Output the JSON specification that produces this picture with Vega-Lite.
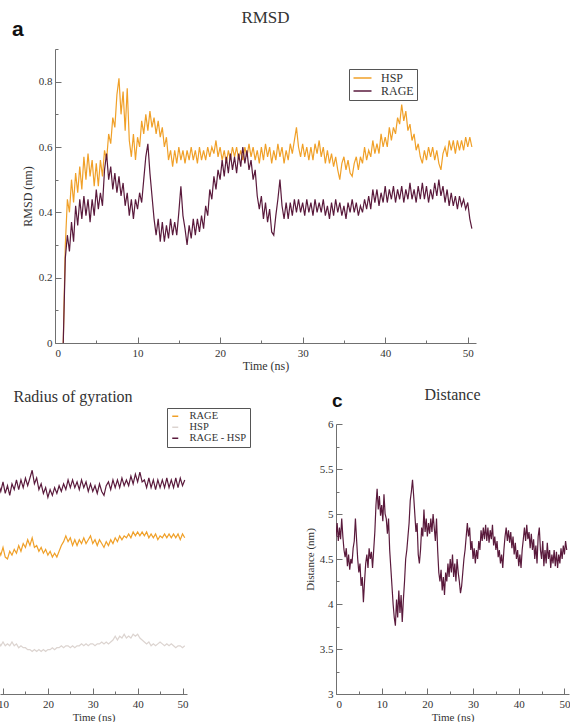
{
"$schema": "https://vega.github.io/schema/vega-lite/v6.json",
"background": "white",
"padding": {"left": -3, "top": 8, "right": 0, "bottom": 0},
"config": {
 "font": "Liberation Serif",
 "view": {"stroke": null},
 "axis": {"domainColor": "#707070", "tickColor": "#707070", "labelColor": "#333333", "titleColor": "#333333", "labelFont": "Liberation Serif", "titleFont": "Liberation Serif", "labelFontSize": 11, "titleFontSize": 12, "titleFontWeight": "normal", "grid": false, "labelPadding": 3, "titlePadding": 4},
 "title": {"font": "Liberation Serif", "fontWeight": "normal", "color": "#333333", "baseline": "alphabetic"},
 "legend": {"labelFont": "Liberation Serif", "labelColor": "#333333", "strokeColor": "#555555", "padding": 4, "rowPadding": 1, "symbolStrokeWidth": 1.5, "symbolType": "stroke"}
},
"resolve": {"scale": {"color": "independent"}, "legend": {"color": "independent"}},
"datasets": {
 "rmsd": [
{"t":1,"HSP":0,"RAGE":0},{"t":1.25,"HSP":0.30,"RAGE":0.26},{"t":1.5,"HSP":0.44,"RAGE":0.33},{"t":1.75,"HSP":0.40,"RAGE":0.28},{"t":2,"HSP":0.50,"RAGE":0.37},{"t":2.25,"HSP":0.43,"RAGE":0.31},{"t":2.5,"HSP":0.52,"RAGE":0.42},{"t":2.75,"HSP":0.46,"RAGE":0.36},{"t":3,"HSP":0.54,"RAGE":0.44},{"t":3.25,"HSP":0.47,"RAGE":0.38},{"t":3.5,"HSP":0.57,"RAGE":0.45},{"t":3.75,"HSP":0.50,"RAGE":0.39},{"t":4,"HSP":0.58,"RAGE":0.44},{"t":4.25,"HSP":0.51,"RAGE":0.37},{"t":4.5,"HSP":0.56,"RAGE":0.44},{"t":4.75,"HSP":0.48,"RAGE":0.39},{"t":5,"HSP":0.55,"RAGE":0.47},{"t":5.25,"HSP":0.48,"RAGE":0.41},{"t":5.5,"HSP":0.56,"RAGE":0.46},{"t":5.75,"HSP":0.51,"RAGE":0.42},{"t":6,"HSP":0.59,"RAGE":0.53},{"t":6.25,"HSP":0.56,"RAGE":0.58},{"t":6.5,"HSP":0.64,"RAGE":0.50},{"t":6.75,"HSP":0.61,"RAGE":0.54},{"t":7,"HSP":0.69,"RAGE":0.47},{"t":7.25,"HSP":0.66,"RAGE":0.52},{"t":7.5,"HSP":0.76,"RAGE":0.46},{"t":7.75,"HSP":0.81,"RAGE":0.51},{"t":8,"HSP":0.70,"RAGE":0.45},{"t":8.25,"HSP":0.77,"RAGE":0.49},{"t":8.5,"HSP":0.65,"RAGE":0.42},{"t":8.75,"HSP":0.78,"RAGE":0.46},{"t":9,"HSP":0.62,"RAGE":0.39},{"t":9.25,"HSP":0.57,"RAGE":0.44},{"t":9.5,"HSP":0.64,"RAGE":0.38},{"t":9.75,"HSP":0.56,"RAGE":0.44},{"t":10,"HSP":0.63,"RAGE":0.41},{"t":10.25,"HSP":0.60,"RAGE":0.46},{"t":10.5,"HSP":0.68,"RAGE":0.43},{"t":10.75,"HSP":0.64,"RAGE":0.50},{"t":11,"HSP":0.70,"RAGE":0.57},{"t":11.25,"HSP":0.65,"RAGE":0.61},{"t":11.5,"HSP":0.71,"RAGE":0.52},{"t":11.75,"HSP":0.66,"RAGE":0.45},{"t":12,"HSP":0.69,"RAGE":0.38},{"t":12.25,"HSP":0.64,"RAGE":0.33},{"t":12.5,"HSP":0.68,"RAGE":0.38},{"t":12.75,"HSP":0.63,"RAGE":0.31},{"t":13,"HSP":0.66,"RAGE":0.37},{"t":13.25,"HSP":0.60,"RAGE":0.31},{"t":13.5,"HSP":0.63,"RAGE":0.36},{"t":13.75,"HSP":0.56,"RAGE":0.32},{"t":14,"HSP":0.59,"RAGE":0.38},{"t":14.25,"HSP":0.54,"RAGE":0.33},{"t":14.5,"HSP":0.59,"RAGE":0.37},{"t":14.75,"HSP":0.55,"RAGE":0.33},{"t":15,"HSP":0.60,"RAGE":0.40},{"t":15.25,"HSP":0.56,"RAGE":0.48},{"t":15.5,"HSP":0.59,"RAGE":0.39},{"t":15.75,"HSP":0.55,"RAGE":0.35},{"t":16,"HSP":0.59,"RAGE":0.30},{"t":16.25,"HSP":0.56,"RAGE":0.36},{"t":16.5,"HSP":0.60,"RAGE":0.32},{"t":16.75,"HSP":0.56,"RAGE":0.38},{"t":17,"HSP":0.59,"RAGE":0.33},{"t":17.25,"HSP":0.55,"RAGE":0.38},{"t":17.5,"HSP":0.60,"RAGE":0.34},{"t":17.75,"HSP":0.56,"RAGE":0.39},{"t":18,"HSP":0.59,"RAGE":0.35},{"t":18.25,"HSP":0.56,"RAGE":0.42},{"t":18.5,"HSP":0.60,"RAGE":0.39},{"t":18.75,"HSP":0.57,"RAGE":0.47},{"t":19,"HSP":0.60,"RAGE":0.44},{"t":19.25,"HSP":0.58,"RAGE":0.51},{"t":19.5,"HSP":0.62,"RAGE":0.47},{"t":19.75,"HSP":0.57,"RAGE":0.53},{"t":20,"HSP":0.60,"RAGE":0.50},{"t":20.25,"HSP":0.56,"RAGE":0.56},{"t":20.5,"HSP":0.59,"RAGE":0.51},{"t":20.75,"HSP":0.55,"RAGE":0.57},{"t":21,"HSP":0.59,"RAGE":0.52},{"t":21.25,"HSP":0.56,"RAGE":0.58},{"t":21.5,"HSP":0.60,"RAGE":0.53},{"t":21.75,"HSP":0.57,"RAGE":0.57},{"t":22,"HSP":0.60,"RAGE":0.52},{"t":22.25,"HSP":0.56,"RAGE":0.58},{"t":22.5,"HSP":0.59,"RAGE":0.54},{"t":22.75,"HSP":0.56,"RAGE":0.60},{"t":23,"HSP":0.60,"RAGE":0.55},{"t":23.25,"HSP":0.57,"RAGE":0.59},{"t":23.5,"HSP":0.61,"RAGE":0.53},{"t":23.75,"HSP":0.57,"RAGE":0.56},{"t":24,"HSP":0.60,"RAGE":0.50},{"t":24.25,"HSP":0.56,"RAGE":0.53},{"t":24.5,"HSP":0.59,"RAGE":0.45},{"t":24.75,"HSP":0.55,"RAGE":0.41},{"t":25,"HSP":0.60,"RAGE":0.45},{"t":25.25,"HSP":0.56,"RAGE":0.38},{"t":25.5,"HSP":0.61,"RAGE":0.43},{"t":25.75,"HSP":0.57,"RAGE":0.37},{"t":26,"HSP":0.60,"RAGE":0.41},{"t":26.25,"HSP":0.55,"RAGE":0.34},{"t":26.5,"HSP":0.59,"RAGE":0.33},{"t":26.75,"HSP":0.56,"RAGE":0.39},{"t":27,"HSP":0.61,"RAGE":0.44},{"t":27.25,"HSP":0.57,"RAGE":0.50},{"t":27.5,"HSP":0.60,"RAGE":0.42},{"t":27.75,"HSP":0.55,"RAGE":0.38},{"t":28,"HSP":0.59,"RAGE":0.43},{"t":28.25,"HSP":0.56,"RAGE":0.38},{"t":28.5,"HSP":0.61,"RAGE":0.43},{"t":28.75,"HSP":0.58,"RAGE":0.39},{"t":29,"HSP":0.62,"RAGE":0.44},{"t":29.25,"HSP":0.66,"RAGE":0.40},{"t":29.5,"HSP":0.60,"RAGE":0.44},{"t":29.75,"HSP":0.57,"RAGE":0.40},{"t":30,"HSP":0.61,"RAGE":0.43},{"t":30.25,"HSP":0.57,"RAGE":0.39},{"t":30.5,"HSP":0.60,"RAGE":0.44},{"t":30.75,"HSP":0.56,"RAGE":0.40},{"t":31,"HSP":0.60,"RAGE":0.43},{"t":31.25,"HSP":0.56,"RAGE":0.39},{"t":31.5,"HSP":0.61,"RAGE":0.44},{"t":31.75,"HSP":0.58,"RAGE":0.40},{"t":32,"HSP":0.62,"RAGE":0.43},{"t":32.25,"HSP":0.57,"RAGE":0.40},{"t":32.5,"HSP":0.60,"RAGE":0.44},{"t":32.75,"HSP":0.55,"RAGE":0.39},{"t":33,"HSP":0.59,"RAGE":0.42},{"t":33.25,"HSP":0.55,"RAGE":0.38},{"t":33.5,"HSP":0.58,"RAGE":0.43},{"t":33.75,"HSP":0.54,"RAGE":0.39},{"t":34,"HSP":0.57,"RAGE":0.44},{"t":34.25,"HSP":0.53,"RAGE":0.40},{"t":34.5,"HSP":0.50,"RAGE":0.43},{"t":34.75,"HSP":0.55,"RAGE":0.39},{"t":35,"HSP":0.57,"RAGE":0.42},{"t":35.25,"HSP":0.53,"RAGE":0.38},{"t":35.5,"HSP":0.56,"RAGE":0.43},{"t":35.75,"HSP":0.52,"RAGE":0.40},{"t":36,"HSP":0.51,"RAGE":0.44},{"t":36.25,"HSP":0.55,"RAGE":0.40},{"t":36.5,"HSP":0.57,"RAGE":0.43},{"t":36.75,"HSP":0.53,"RAGE":0.39},{"t":37,"HSP":0.57,"RAGE":0.42},{"t":37.25,"HSP":0.55,"RAGE":0.40},{"t":37.5,"HSP":0.60,"RAGE":0.44},{"t":37.75,"HSP":0.56,"RAGE":0.41},{"t":38,"HSP":0.59,"RAGE":0.45},{"t":38.25,"HSP":0.57,"RAGE":0.41},{"t":38.5,"HSP":0.62,"RAGE":0.47},{"t":38.75,"HSP":0.58,"RAGE":0.43},{"t":39,"HSP":0.61,"RAGE":0.47},{"t":39.25,"HSP":0.58,"RAGE":0.42},{"t":39.5,"HSP":0.64,"RAGE":0.46},{"t":39.75,"HSP":0.60,"RAGE":0.43},{"t":40,"HSP":0.63,"RAGE":0.48},{"t":40.25,"HSP":0.60,"RAGE":0.43},{"t":40.5,"HSP":0.66,"RAGE":0.47},{"t":40.75,"HSP":0.62,"RAGE":0.44},{"t":41,"HSP":0.66,"RAGE":0.48},{"t":41.25,"HSP":0.64,"RAGE":0.43},{"t":41.5,"HSP":0.69,"RAGE":0.47},{"t":41.75,"HSP":0.67,"RAGE":0.44},{"t":42,"HSP":0.73,"RAGE":0.48},{"t":42.25,"HSP":0.68,"RAGE":0.43},{"t":42.5,"HSP":0.71,"RAGE":0.47},{"t":42.75,"HSP":0.65,"RAGE":0.44},{"t":43,"HSP":0.67,"RAGE":0.49},{"t":43.25,"HSP":0.62,"RAGE":0.44},{"t":43.5,"HSP":0.64,"RAGE":0.47},{"t":43.75,"HSP":0.59,"RAGE":0.43},{"t":44,"HSP":0.61,"RAGE":0.48},{"t":44.25,"HSP":0.57,"RAGE":0.44},{"t":44.5,"HSP":0.55,"RAGE":0.49},{"t":44.75,"HSP":0.59,"RAGE":0.44},{"t":45,"HSP":0.56,"RAGE":0.48},{"t":45.25,"HSP":0.60,"RAGE":0.43},{"t":45.5,"HSP":0.57,"RAGE":0.47},{"t":45.75,"HSP":0.60,"RAGE":0.44},{"t":46,"HSP":0.56,"RAGE":0.49},{"t":46.25,"HSP":0.59,"RAGE":0.45},{"t":46.5,"HSP":0.55,"RAGE":0.50},{"t":46.75,"HSP":0.53,"RAGE":0.45},{"t":47,"HSP":0.58,"RAGE":0.48},{"t":47.25,"HSP":0.60,"RAGE":0.43},{"t":47.5,"HSP":0.57,"RAGE":0.47},{"t":47.75,"HSP":0.62,"RAGE":0.42},{"t":48,"HSP":0.59,"RAGE":0.46},{"t":48.25,"HSP":0.62,"RAGE":0.42},{"t":48.5,"HSP":0.58,"RAGE":0.45},{"t":48.75,"HSP":0.62,"RAGE":0.41},{"t":49,"HSP":0.59,"RAGE":0.45},{"t":49.25,"HSP":0.62,"RAGE":0.42},{"t":49.5,"HSP":0.59,"RAGE":0.44},{"t":49.75,"HSP":0.63,"RAGE":0.41},{"t":50,"HSP":0.60,"RAGE":0.43},{"t":50.25,"HSP":0.63,"RAGE":0.38},{"t":50.5,"HSP":0.60,"RAGE":0.35}
 ],
 "rg": [
{"t":8,"RAGE_HSP":2.68,"RAGE":2.35,"HSP":1.86},{"t":8.5,"RAGE_HSP":2.65,"RAGE":2.32,"HSP":1.85},{"t":9,"RAGE_HSP":2.69,"RAGE":2.35,"HSP":1.87},{"t":9.5,"RAGE_HSP":2.65,"RAGE":2.32,"HSP":1.85},{"t":10,"RAGE_HSP":2.70,"RAGE":2.36,"HSP":1.87},{"t":10.5,"RAGE_HSP":2.64,"RAGE":2.31,"HSP":1.85},{"t":11,"RAGE_HSP":2.68,"RAGE":2.30,"HSP":1.86},{"t":11.5,"RAGE_HSP":2.63,"RAGE":2.34,"HSP":1.85},{"t":12,"RAGE_HSP":2.69,"RAGE":2.32,"HSP":1.87},{"t":12.5,"RAGE_HSP":2.66,"RAGE":2.35,"HSP":1.85},{"t":13,"RAGE_HSP":2.71,"RAGE":2.33,"HSP":1.86},{"t":13.5,"RAGE_HSP":2.66,"RAGE":2.37,"HSP":1.84},{"t":14,"RAGE_HSP":2.71,"RAGE":2.34,"HSP":1.85},{"t":14.5,"RAGE_HSP":2.67,"RAGE":2.38,"HSP":1.84},{"t":15,"RAGE_HSP":2.72,"RAGE":2.36,"HSP":1.84},{"t":15.5,"RAGE_HSP":2.68,"RAGE":2.40,"HSP":1.83},{"t":16,"RAGE_HSP":2.72,"RAGE":2.37,"HSP":1.83},{"t":16.5,"RAGE_HSP":2.76,"RAGE":2.41,"HSP":1.82},{"t":17,"RAGE_HSP":2.69,"RAGE":2.36,"HSP":1.83},{"t":17.5,"RAGE_HSP":2.72,"RAGE":2.37,"HSP":1.82},{"t":18,"RAGE_HSP":2.66,"RAGE":2.34,"HSP":1.83},{"t":18.5,"RAGE_HSP":2.69,"RAGE":2.36,"HSP":1.82},{"t":19,"RAGE_HSP":2.64,"RAGE":2.33,"HSP":1.83},{"t":19.5,"RAGE_HSP":2.67,"RAGE":2.35,"HSP":1.82},{"t":20,"RAGE_HSP":2.62,"RAGE":2.32,"HSP":1.83},{"t":20.5,"RAGE_HSP":2.66,"RAGE":2.34,"HSP":1.83},{"t":21,"RAGE_HSP":2.63,"RAGE":2.31,"HSP":1.84},{"t":21.5,"RAGE_HSP":2.67,"RAGE":2.33,"HSP":1.83},{"t":22,"RAGE_HSP":2.64,"RAGE":2.31,"HSP":1.84},{"t":22.5,"RAGE_HSP":2.68,"RAGE":2.34,"HSP":1.84},{"t":23,"RAGE_HSP":2.65,"RAGE":2.37,"HSP":1.85},{"t":23.5,"RAGE_HSP":2.69,"RAGE":2.39,"HSP":1.84},{"t":24,"RAGE_HSP":2.66,"RAGE":2.42,"HSP":1.85},{"t":24.5,"RAGE_HSP":2.71,"RAGE":2.39,"HSP":1.85},{"t":25,"RAGE_HSP":2.67,"RAGE":2.41,"HSP":1.84},{"t":25.5,"RAGE_HSP":2.71,"RAGE":2.37,"HSP":1.85},{"t":26,"RAGE_HSP":2.67,"RAGE":2.40,"HSP":1.84},{"t":26.5,"RAGE_HSP":2.70,"RAGE":2.37,"HSP":1.85},{"t":27,"RAGE_HSP":2.66,"RAGE":2.40,"HSP":1.85},{"t":27.5,"RAGE_HSP":2.71,"RAGE":2.38,"HSP":1.86},{"t":28,"RAGE_HSP":2.67,"RAGE":2.41,"HSP":1.85},{"t":28.5,"RAGE_HSP":2.70,"RAGE":2.38,"HSP":1.86},{"t":29,"RAGE_HSP":2.65,"RAGE":2.40,"HSP":1.85},{"t":29.5,"RAGE_HSP":2.69,"RAGE":2.42,"HSP":1.86},{"t":30,"RAGE_HSP":2.65,"RAGE":2.38,"HSP":1.86},{"t":30.5,"RAGE_HSP":2.68,"RAGE":2.40,"HSP":1.85},{"t":31,"RAGE_HSP":2.64,"RAGE":2.37,"HSP":1.86},{"t":31.5,"RAGE_HSP":2.69,"RAGE":2.40,"HSP":1.86},{"t":32,"RAGE_HSP":2.65,"RAGE":2.38,"HSP":1.87},{"t":32.5,"RAGE_HSP":2.63,"RAGE":2.36,"HSP":1.86},{"t":33,"RAGE_HSP":2.68,"RAGE":2.39,"HSP":1.87},{"t":33.5,"RAGE_HSP":2.70,"RAGE":2.37,"HSP":1.86},{"t":34,"RAGE_HSP":2.66,"RAGE":2.40,"HSP":1.87},{"t":34.5,"RAGE_HSP":2.71,"RAGE":2.38,"HSP":1.88},{"t":35,"RAGE_HSP":2.67,"RAGE":2.41,"HSP":1.90},{"t":35.5,"RAGE_HSP":2.71,"RAGE":2.39,"HSP":1.88},{"t":36,"RAGE_HSP":2.67,"RAGE":2.42,"HSP":1.90},{"t":36.5,"RAGE_HSP":2.72,"RAGE":2.40,"HSP":1.89},{"t":37,"RAGE_HSP":2.68,"RAGE":2.42,"HSP":1.91},{"t":37.5,"RAGE_HSP":2.71,"RAGE":2.41,"HSP":1.89},{"t":38,"RAGE_HSP":2.68,"RAGE":2.43,"HSP":1.90},{"t":38.5,"RAGE_HSP":2.73,"RAGE":2.41,"HSP":1.89},{"t":39,"RAGE_HSP":2.69,"RAGE":2.44,"HSP":1.91},{"t":39.5,"RAGE_HSP":2.74,"RAGE":2.42,"HSP":1.90},{"t":40,"RAGE_HSP":2.70,"RAGE":2.44,"HSP":1.91},{"t":40.5,"RAGE_HSP":2.75,"RAGE":2.42,"HSP":1.89},{"t":41,"RAGE_HSP":2.70,"RAGE":2.44,"HSP":1.88},{"t":41.5,"RAGE_HSP":2.71,"RAGE":2.42,"HSP":1.87},{"t":42,"RAGE_HSP":2.67,"RAGE":2.44,"HSP":1.86},{"t":42.5,"RAGE_HSP":2.72,"RAGE":2.41,"HSP":1.87},{"t":43,"RAGE_HSP":2.67,"RAGE":2.43,"HSP":1.85},{"t":43.5,"RAGE_HSP":2.71,"RAGE":2.41,"HSP":1.86},{"t":44,"RAGE_HSP":2.66,"RAGE":2.43,"HSP":1.85},{"t":44.5,"RAGE_HSP":2.71,"RAGE":2.40,"HSP":1.86},{"t":45,"RAGE_HSP":2.67,"RAGE":2.42,"HSP":1.87},{"t":45.5,"RAGE_HSP":2.71,"RAGE":2.41,"HSP":1.86},{"t":46,"RAGE_HSP":2.67,"RAGE":2.43,"HSP":1.85},{"t":46.5,"RAGE_HSP":2.72,"RAGE":2.41,"HSP":1.86},{"t":47,"RAGE_HSP":2.67,"RAGE":2.43,"HSP":1.85},{"t":47.5,"RAGE_HSP":2.71,"RAGE":2.41,"HSP":1.86},{"t":48,"RAGE_HSP":2.67,"RAGE":2.43,"HSP":1.85},{"t":48.5,"RAGE_HSP":2.72,"RAGE":2.41,"HSP":1.84},{"t":49,"RAGE_HSP":2.67,"RAGE":2.43,"HSP":1.85},{"t":49.5,"RAGE_HSP":2.72,"RAGE":2.40,"HSP":1.85},{"t":50,"RAGE_HSP":2.68,"RAGE":2.43,"HSP":1.84},{"t":50.5,"RAGE_HSP":2.71,"RAGE":2.41,"HSP":1.85}
 ],
 "dist": [
{"t":0,"d":4.75},{"t":0.25,"d":4.9},{"t":0.5,"d":4.7},{"t":0.75,"d":4.85},{"t":1,"d":4.72},{"t":1.25,"d":4.95},{"t":1.5,"d":4.75},{"t":1.75,"d":4.6},{"t":2,"d":4.52},{"t":2.25,"d":4.62},{"t":2.5,"d":4.42},{"t":2.75,"d":4.55},{"t":3,"d":4.38},{"t":3.25,"d":4.5},{"t":3.5,"d":4.45},{"t":3.75,"d":4.62},{"t":4,"d":4.7},{"t":4.25,"d":4.95},{"t":4.5,"d":4.72},{"t":4.75,"d":4.5},{"t":5,"d":4.35},{"t":5.25,"d":4.45},{"t":5.5,"d":4.2},{"t":5.75,"d":4.3},{"t":6,"d":4.02},{"t":6.25,"d":4.25},{"t":6.5,"d":4.45},{"t":6.75,"d":4.55},{"t":7,"d":4.4},{"t":7.25,"d":4.62},{"t":7.5,"d":4.5},{"t":7.75,"d":4.58},{"t":8,"d":4.4},{"t":8.25,"d":4.6},{"t":8.5,"d":4.8},{"t":8.75,"d":5.1},{"t":9,"d":5.28},{"t":9.25,"d":5.05},{"t":9.5,"d":5.2},{"t":9.75,"d":4.98},{"t":10,"d":5.1},{"t":10.25,"d":4.92},{"t":10.5,"d":5.22},{"t":10.75,"d":5.0},{"t":11,"d":4.95},{"t":11.25,"d":4.78},{"t":11.5,"d":4.95},{"t":11.75,"d":4.6},{"t":12,"d":4.4},{"t":12.25,"d":4.2},{"t":12.5,"d":4.0},{"t":12.75,"d":3.85},{"t":13,"d":3.76},{"t":13.25,"d":4.05},{"t":13.5,"d":3.85},{"t":13.75,"d":4.15},{"t":14,"d":3.9},{"t":14.25,"d":4.1},{"t":14.5,"d":3.8},{"t":14.75,"d":4.05},{"t":15,"d":4.25},{"t":15.25,"d":4.5},{"t":15.5,"d":4.6},{"t":15.75,"d":4.75},{"t":16,"d":4.9},{"t":16.25,"d":5.15},{"t":16.5,"d":5.25},{"t":16.75,"d":5.38},{"t":17,"d":5.2},{"t":17.25,"d":5.0},{"t":17.5,"d":4.8},{"t":17.75,"d":4.9},{"t":18,"d":4.55},{"t":18.25,"d":4.45},{"t":18.5,"d":4.6},{"t":18.75,"d":4.85},{"t":19,"d":4.75},{"t":19.25,"d":5.05},{"t":19.5,"d":4.8},{"t":19.75,"d":4.95},{"t":20,"d":4.75},{"t":20.25,"d":4.9},{"t":20.5,"d":4.78},{"t":20.75,"d":4.95},{"t":21,"d":4.8},{"t":21.25,"d":5.0},{"t":21.5,"d":4.85},{"t":21.75,"d":4.7},{"t":22,"d":4.95},{"t":22.25,"d":4.6},{"t":22.5,"d":4.35},{"t":22.75,"d":4.25},{"t":23,"d":4.38},{"t":23.25,"d":4.15},{"t":23.5,"d":4.3},{"t":23.75,"d":4.1},{"t":24,"d":4.35},{"t":24.25,"d":4.25},{"t":24.5,"d":4.45},{"t":24.75,"d":4.3},{"t":25,"d":4.5},{"t":25.25,"d":4.35},{"t":25.5,"d":4.55},{"t":25.75,"d":4.3},{"t":26,"d":4.45},{"t":26.25,"d":4.25},{"t":26.5,"d":4.5},{"t":26.75,"d":4.35},{"t":27,"d":4.25},{"t":27.25,"d":4.12},{"t":27.5,"d":4.2},{"t":27.75,"d":4.35},{"t":28,"d":4.5},{"t":28.25,"d":4.6},{"t":28.5,"d":4.75},{"t":28.75,"d":4.9},{"t":29,"d":4.75},{"t":29.25,"d":4.85},{"t":29.5,"d":4.6},{"t":29.75,"d":4.7},{"t":30,"d":4.5},{"t":30.25,"d":4.62},{"t":30.5,"d":4.45},{"t":30.75,"d":4.6},{"t":31,"d":4.5},{"t":31.25,"d":4.7},{"t":31.5,"d":4.6},{"t":31.75,"d":4.82},{"t":32,"d":4.7},{"t":32.25,"d":4.85},{"t":32.5,"d":4.72},{"t":32.75,"d":4.88},{"t":33,"d":4.7},{"t":33.25,"d":4.85},{"t":33.5,"d":4.68},{"t":33.75,"d":4.82},{"t":34,"d":4.72},{"t":34.25,"d":4.88},{"t":34.5,"d":4.65},{"t":34.75,"d":4.75},{"t":35,"d":4.6},{"t":35.25,"d":4.7},{"t":35.5,"d":4.52},{"t":35.75,"d":4.6},{"t":36,"d":4.45},{"t":36.25,"d":4.55},{"t":36.5,"d":4.4},{"t":36.75,"d":4.6},{"t":37,"d":4.75},{"t":37.25,"d":4.85},{"t":37.5,"d":4.7},{"t":37.75,"d":4.82},{"t":38,"d":4.68},{"t":38.25,"d":4.8},{"t":38.5,"d":4.62},{"t":38.75,"d":4.75},{"t":39,"d":4.55},{"t":39.25,"d":4.68},{"t":39.5,"d":4.5},{"t":39.75,"d":4.6},{"t":40,"d":4.42},{"t":40.25,"d":4.55},{"t":40.5,"d":4.4},{"t":40.75,"d":4.6},{"t":41,"d":4.72},{"t":41.25,"d":4.85},{"t":41.5,"d":4.7},{"t":41.75,"d":4.88},{"t":42,"d":4.72},{"t":42.25,"d":4.8},{"t":42.5,"d":4.62},{"t":42.75,"d":4.78},{"t":43,"d":4.6},{"t":43.25,"d":4.72},{"t":43.5,"d":4.5},{"t":43.75,"d":4.65},{"t":44,"d":4.45},{"t":44.25,"d":4.75},{"t":44.5,"d":4.85},{"t":44.75,"d":4.6},{"t":45,"d":4.5},{"t":45.25,"d":4.7},{"t":45.5,"d":4.42},{"t":45.75,"d":4.6},{"t":46,"d":4.45},{"t":46.25,"d":4.68},{"t":46.5,"d":4.5},{"t":46.75,"d":4.6},{"t":47,"d":4.4},{"t":47.25,"d":4.55},{"t":47.5,"d":4.45},{"t":47.75,"d":4.6},{"t":48,"d":4.42},{"t":48.25,"d":4.58},{"t":48.5,"d":4.4},{"t":48.75,"d":4.55},{"t":49,"d":4.45},{"t":49.25,"d":4.62},{"t":49.5,"d":4.5},{"t":49.75,"d":4.65},{"t":50,"d":4.55},{"t":50.25,"d":4.7},{"t":50.5,"d":4.6}
 ]
},
"spacing": 16,
"vconcat": [
 {
  "bounds": "flush",
  "spacing": 10,
  "hconcat": [
   {
    "width": 45, "height": 294,
    "title": {"text": "a", "font": "Liberation Sans", "fontWeight": "bold", "fontSize": 21, "color": "#111111", "anchor": "start", "dx": 12, "offset": 9},
    "data": {"values": [{"k": 0}]},
    "mark": {"type": "point", "opacity": 0}
   },
   {
    "width": 421, "height": 294,
    "title": {"text": "RMSD", "fontSize": 17, "offset": 22},
    "data": {"name": "rmsd"},
    "transform": [{"fold": ["HSP", "RAGE"], "as": ["series", "rmsd"]}],
    "mark": {"type": "line", "strokeWidth": 1.2, "clip": true},
    "encoding": {
     "x": {"field": "t", "type": "quantitative", "scale": {"domain": [0, 51], "nice": false},
      "axis": {"title": "Time (ns)", "values": [0,5,10,15,20,25,30,35,40,45,50], "format": "d",
       "labelExpr": "datum.value % 10 == 0 ? datum.label : ''",
       "tickSize": {"condition": {"test": "datum.value % 10 == 0", "value": -6}, "value": -3},
       "labelPadding": 10, "titlePadding": 2}},
     "y": {"field": "rmsd", "type": "quantitative", "scale": {"domain": [0, 0.9], "nice": false},
      "axis": {"title": "RMSD (nm)", "values": [0,0.1,0.2,0.3,0.4,0.5,0.6,0.7,0.8,0.9], "format": "~g",
       "labelExpr": "round(datum.value*10) % 2 == 0 ? datum.label : ''",
       "tickSize": {"condition": {"test": "round(datum.value*10) % 2 == 0", "value": -6}, "value": -3},
       "labelPadding": 9, "titlePadding": 4}},
     "color": {"field": "series", "type": "nominal", "scale": {"domain": ["HSP", "RAGE"], "range": ["#F0A028", "#5A1A3C"]},
      "legend": {"title": null, "orient": "none", "legendX": 349, "legendY": 20, "labelFontSize": 12, "symbolType": "M-3,0H1", "symbolSize": 81, "symbolOffset": 9, "labelOffset": 8, "rowPadding": 1, "padding": 3}}
    }
   }
  ]
 },
 {
  "bounds": "flush",
  "spacing": 50,
  "resolve": {"scale": {"color": "independent"}, "legend": {"color": "independent"}},
  "hconcat": [
   {
    "width": 187, "height": 270,
    "title": {"text": "Radius of gyration", "fontSize": 16, "anchor": "start", "dx": 16, "offset": 3},
    "data": {"name": "rg"},
    "transform": [{"fold": ["RAGE", "HSP", "RAGE_HSP"], "as": ["series", "rg"]}],
    "mark": {"type": "line", "strokeWidth": 1.2, "clip": true},
    "encoding": {
     "x": {"field": "t", "type": "quantitative", "scale": {"domain": [9.33, 51], "nice": false},
      "axis": {"title": "Time (ns)", "values": [10,15,20,25,30,35,40,45,50], "format": "d",
       "labelExpr": "datum.value % 10 == 0 ? datum.label : ''",
       "tickSize": {"condition": {"test": "datum.value % 10 == 0", "value": -6}, "value": -3},
       "labelPadding": 10, "titlePadding": 2, "titleFontSize": 11}},
     "y": {"field": "rg", "type": "quantitative", "scale": {"domain": [1.6, 3.0], "nice": false, "zero": false}, "axis": null},
     "color": {"field": "series", "type": "nominal", "scale": {"domain": ["RAGE", "HSP", "RAGE_HSP"], "range": ["#F0A028", "#DCD4D0", "#5A1A3C"]},
      "legend": {"title": null, "orient": "none", "legendX": 167, "legendY": -16, "labelFontSize": 10.5, "symbolSize": 36, "labelOffset": 9, "rowPadding": 0, "padding": 3,
       "labelExpr": "datum.label == 'RAGE_HSP' ? 'RAGE - HSP' : datum.label"}}
    }
   },
   {
    "width": 49, "height": 270,
    "title": {"text": "c", "font": "Liberation Sans", "fontWeight": "bold", "fontSize": 19, "color": "#111111", "anchor": "start", "dx": 95, "offset": 13},
    "data": {"values": [{"k": 0}]},
    "mark": {"type": "point", "opacity": 0}
   },
   {
    "width": 233, "height": 270,
    "title": {"text": "Distance", "fontSize": 16, "offset": 15},
    "data": {"name": "dist"},
    "mark": {"type": "line", "strokeWidth": 1.2, "color": "#5A1A3C", "clip": true},
    "encoding": {
     "x": {"field": "t", "type": "quantitative", "scale": {"domain": [0, 51], "nice": false},
      "axis": {"title": "Time (ns)", "values": [0,5,10,15,20,25,30,35,40,45,50], "format": "d",
       "labelExpr": "datum.value % 10 == 0 ? datum.label : ''",
       "tickSize": {"condition": {"test": "datum.value % 10 == 0", "value": -6}, "value": -3},
       "labelPadding": 10, "titlePadding": 2, "titleFontSize": 11}},
     "y": {"field": "d", "type": "quantitative", "scale": {"domain": [3, 6], "nice": false, "zero": false},
      "axis": {"title": "Distance (nm)", "values": [3,3.25,3.5,3.75,4,4.25,4.5,4.75,5,5.25,5.5,5.75,6], "format": "~g",
       "labelExpr": "round(datum.value*4) % 2 == 0 ? datum.label : ''",
       "tickSize": {"condition": {"test": "round(datum.value*4) % 2 == 0", "value": -6}, "value": -3},
       "labelPadding": 9, "titlePadding": 4, "titleFontSize": 11}}
    }
   }
  ]
 }
]
}
